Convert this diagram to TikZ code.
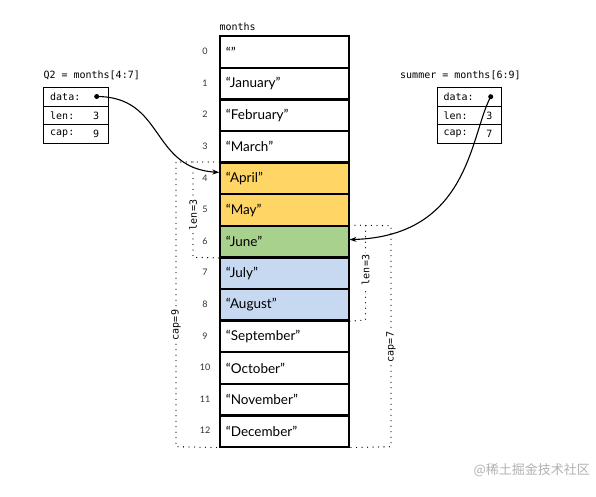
\documentclass[tikz,border=0pt]{standalone}
\usepackage{fontspec}
\setmainfont{Lato}
\newfontfamily\monofont{DejaVu Sans Mono}
\newfontfamily\cjkfont{Noto Sans CJK SC}
\usetikzlibrary{arrows.meta}
\definecolor{cyellow}{HTML}{FFD566}
\definecolor{cgreen}{HTML}{A9D18E}
\definecolor{cblue}{HTML}{C6D9F1}
\definecolor{idxgray}{HTML}{333333}
\tikzset{
  cell/.style={draw=black, line width=1.2pt, minimum width=129pt, minimum height=31.6pt,
    anchor=north west, inner ysep=0pt, inner xsep=6pt, text width=117pt, align=left,
    font=\fontsize{13.5pt}{15pt}\selectfont},
  idx/.style={font=\fontsize{9pt}{10pt}\selectfont, text=idxgray, inner sep=0pt},
  field/.style={draw=black, line width=1.1pt, minimum width=64.4pt, minimum height=18.5pt,
    anchor=north west, inner sep=0pt},
  ftext/.style={font=\monofont\fontsize{10pt}{12pt}\selectfont, inner sep=0pt},
  mono/.style={font=\monofont\fontsize{10pt}{12pt}\selectfont, inner sep=0pt},
  dotline/.style={line width=1.3pt, line cap=round, dash pattern=on 0pt off 5.5pt},
  vlabel/.style={font=\monofont\fontsize{10pt}{12pt}\selectfont, rotate=90, fill=white, inner sep=2pt},
  ptr/.style={line width=1.1pt, -{Stealth[length=7pt,width=5pt]}},
  ptrdot/.style={circle, fill=black, inner sep=0pt, minimum size=5pt}
}
\begin{document}
\begin{tikzpicture}[x=1pt,y=-1pt]
\useasboundingbox (0,0) rectangle (596,496);
\fill[white] (0,0) rectangle (596,496);

% array cells
\foreach \i/\t/\c in {0/{“”}/white,1/{“January”}/white,2/{“February”}/white,3/{“March”}/white,
  4/{“April”}/cyellow,5/{“May”}/cyellow,6/{“June”}/cgreen,7/{“July”}/cblue,8/{“August”}/cblue,
  9/{“September”}/white,10/{“October”}/white,11/{“November”}/white,12/{“December”}/white}{
  \node[cell, fill=\c] (c\i) at (219.3, 35.6+31.6*\i) {\t};
  \node[idx] (i\i) at (205, 35.6+31.6*\i+15.8) {\i};
}
\node[mono, anchor=south west] (months) at (219.3, 31) {months};

% Q2 header
\node[mono, anchor=west] (q2label) at (43.3, 75) {Q2 = months[4:7]};
\node[field] (q2d) at (43.3, 87.3) {};
\node[field] (q2l) at (43.3, 105.8) {};
\node[field] (q2c) at (43.3, 124.3) {};
\node[ftext, anchor=west] (q2dt) at ([xshift=6.7pt]q2d.west) {data:};
\node[ftext, anchor=west] (q2lt) at ([xshift=6.7pt]q2l.west) {len:};
\node[ftext, anchor=west] (q2ct) at ([xshift=6.7pt]q2c.west) {cap:};
\node[ftext, anchor=east] (q2lv) at ([xshift=-9.5pt]q2l.east) {3};
\node[ftext, anchor=east] (q2cv) at ([xshift=-9.5pt]q2c.east) {9};
\node[ptrdot] (q2dot) at (96.7, 96.5) {};

% summer header
\node[mono, anchor=west] (smlabel) at (400, 75) {summer = months[6:9]};
\node[field] (smd) at (436.7, 87.3) {};
\node[field] (sml) at (436.7, 105.8) {};
\node[field] (smc) at (436.7, 124.3) {};
\node[ftext, anchor=west] (smdt) at ([xshift=6.7pt]smd.west) {data:};
\node[ftext, anchor=west] (smlt) at ([xshift=6.7pt]sml.west) {len:};
\node[ftext, anchor=west] (smct) at ([xshift=6.7pt]smc.west) {cap:};
\node[ftext, anchor=east] (smlv) at ([xshift=-9.5pt]sml.east) {3};
\node[ftext, anchor=east] (smcv) at ([xshift=-9.5pt]smc.east) {7};
\node[ptrdot] (smdot) at (490.7, 96.7) {};

% dotted brackets, Q2
\draw[dotline] (c4.north west) -- (176,162) -- (176,446.7) -- (c12.south west);
\node[vlabel] (q2cap) at (176, 325) {cap=9};
\draw[dotline] (193,162) -- (193,257.3) -- (c6.south west);
\node[vlabel] (q2len) at (193, 215) {len=3};

% dotted brackets, summer
\draw[dotline] (c6.north east) -- (391,225.7) -- (391,446.7) -- (c12.south east);
\node[vlabel] (smcap) at (391, 347) {cap=7};
\draw[dotline] (365.5,225.7) -- (365.5,320) -- (c8.south east);
\node[vlabel] (smlen) at (365.5, 270) {len=3};

% redraw cells' borders over dotted ends
\foreach \i in {0,...,12}{ \draw[line width=1.2pt] (c\i.north west) rectangle (c\i.south east); }

% pointers
\draw[ptr] (q2dot.center) .. controls (165,96.5) and (150,168) .. ([yshift=6pt]c4.west);
\draw[ptr] (smdot.center) .. controls (470,135) and (470,236) .. ([yshift=2pt]c6.east);

% watermark
\node[font=\cjkfont\fontsize{13pt}{15pt}\selectfont, text=black!30, anchor=east, inner sep=0pt] (wm) at (590, 470) {@稀土掘金技术社区};
\end{tikzpicture}
\end{document}
